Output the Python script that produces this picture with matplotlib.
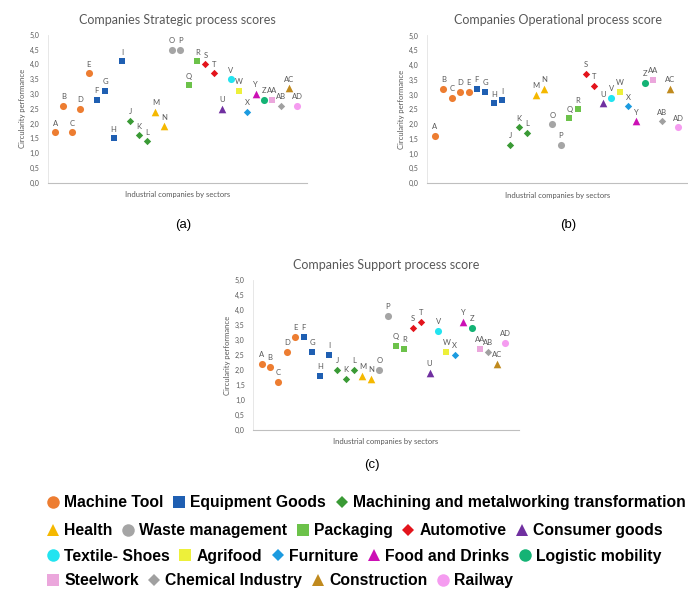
import matplotlib
matplotlib.use('Agg')
import matplotlib.pyplot as plt
from matplotlib.lines import Line2D

companies = ['A', 'B', 'C', 'D', 'E', 'F', 'G', 'H', 'I', 'J', 'K', 'L', 'M', 'N', 'O',
             'P', 'Q', 'R', 'S', 'T', 'U', 'V', 'W', 'X', 'Y', 'Z', 'AA', 'AB', 'AC', 'AD']

company_sectors = (['Machine Tool'] * 5 + ['Equipment Goods'] * 4
                   + ['Machining and metalworking transformation'] * 3
                   + ['Health'] * 2 + ['Waste management'] * 2 + ['Packaging'] * 2
                   + ['Automotive'] * 2 + ['Consumer goods', 'Textile- Shoes', 'Agrifood',
                                           'Furniture', 'Food and Drinks', 'Logistic mobility',
                                           'Steelwork', 'Chemical Industry', 'Construction',
                                           'Railway'])

strategic = [1.7, 2.6, 1.7, 2.5, 3.7, 2.8, 3.1, 1.5, 4.1, 2.1, 1.6, 1.4, 2.4, 1.9, 4.5,
             4.5, 3.3, 4.1, 4.0, 3.7, 2.5, 3.5, 3.1, 2.4, 3.0, 2.8, 2.8, 2.6, 3.2, 2.6]
operational = [1.6, 3.2, 2.9, 3.1, 3.1, 3.2, 3.1, 2.7, 2.8, 1.3, 1.9, 1.7, 3.0, 3.2, 2.0,
               1.3, 2.2, 2.5, 3.7, 3.3, 2.7, 2.9, 3.1, 2.6, 2.1, 3.4, 3.5, 2.1, 3.2, 1.9]
support = [2.2, 2.1, 1.6, 2.6, 3.1, 3.1, 2.6, 1.8, 2.5, 2.0, 1.7, 2.0, 1.8, 1.7, 2.0,
           3.8, 2.8, 2.7, 3.4, 3.6, 1.9, 3.3, 2.6, 2.5, 3.6, 3.4, 2.7, 2.6, 2.2, 2.9]

y_ticks = [0, 0.5, 1, 1.5, 2, 2.5, 3, 3.5, 4, 4.5, 5]
y_tick_labels = ['0,0', '0,5', '1,0', '1,5', '2,0', '2,5', '3,0', '3,5', '4,0', '4,5', '5,0']

legend_rows = [
    ['Machine Tool', 'Equipment Goods', 'Machining and metalworking transformation'],
    ['Health', 'Waste management', 'Packaging', 'Automotive', 'Consumer goods'],
    ['Textile- Shoes', 'Agrifood', 'Furniture', 'Food and Drinks', 'Logistic mobility'],
    ['Steelwork', 'Chemical Industry', 'Construction', 'Railway'],
]

# colour, marker for each sector
sector_style = {
    'Machine Tool': ('#ED7D31', 'o'),
    'Equipment Goods': ('#1F5FB2', 's'),
    'Machining and metalworking transformation': ('#3A9A35', 'D'),
    'Health': ('#F5B800', '^'),
    'Waste management': ('#A5A5A5', 'o'),
    'Packaging': ('#6CC24A', 's'),
    'Automotive': ('#E3141C', 'D'),
    'Consumer goods': ('#7030A0', '^'),
    'Textile- Shoes': ('#22E4F0', 'o'),
    'Agrifood': ('#EDF03A', 's'),
    'Furniture': ('#1C9BE0', 'D'),
    'Food and Drinks': ('#CC10B5', '^'),
    'Logistic mobility': ('#14B375', 'o'),
    'Steelwork': ('#EBA7DC', 's'),
    'Chemical Industry': ('#A0A0A0', 'D'),
    'Construction': ('#C08A1E', '^'),
    'Railway': ('#F59CF0', 'o'),
}
marker_area = {'o': 26, 's': 24, 'D': 14, '^': 30}

TEXT_GREY = '#595959'
CHART_FONT = 'Lato'


def draw_panel(fig, rect, scores, title, xlim):
    ax = fig.add_axes(rect)
    x = range(1, len(scores) + 1)
    for xi, yi, name, sector in zip(x, scores, companies, company_sectors):
        color, marker = sector_style[sector]
        ax.scatter(xi, yi, s=marker_area[marker], marker=marker, color=color,
                   linewidths=0, zorder=3)
        ax.annotate(name, (xi, yi), xytext=(0, 4), textcoords='offset points',
                    ha='center', va='bottom', fontsize=5.5, color=TEXT_GREY,
                    family=CHART_FONT)
    ax.set_xlim(*xlim)
    ax.set_ylim(0, 5)
    ax.set_xticks([])
    ax.set_yticks(y_ticks)
    ax.set_yticklabels(y_tick_labels, fontsize=5, color=TEXT_GREY, family=CHART_FONT)
    ax.tick_params(axis='y', length=0, pad=6)
    for side in ['top', 'right']:
        ax.spines[side].set_visible(False)
    ax.spines['left'].set_color('#E3E3E3')
    ax.spines['bottom'].set_color('#BFBFBF')
    ax.spines['left'].set_linewidth(0.6)
    ax.spines['bottom'].set_linewidth(0.8)
    ax.set_ylabel('Circularity performance', fontsize=5.5, color=TEXT_GREY,
                  family=CHART_FONT, labelpad=3)
    ax.set_xlabel('Industrial companies by sectors', fontsize=5.5, color=TEXT_GREY,
                  family=CHART_FONT, labelpad=6)
    ax.set_title(title, fontsize=9, color=TEXT_GREY, family=CHART_FONT, pad=8)
    return ax


fig = plt.figure(figsize=(6.88, 5.91), dpi=100)

draw_panel(fig, [0.0698, 0.691, 0.377, 0.250], strategic,
           'Companies Strategic process scores', (0.15, 31.2))
draw_panel(fig, [0.6206, 0.690, 0.380, 0.250], operational,
           'Companies Operational process score', (0.05, 31.2))
draw_panel(fig, [0.368, 0.2724, 0.386, 0.254], support,
           'Companies Support process score', (0.0, 31.6))

for label, (px, py) in zip(['(a)', '(b)', '(c)'],
                           [(0.266, 0.619), (0.826, 0.619), (0.541, 0.213)]):
    fig.text(px, py, label, fontsize=9.5, ha='center', va='center', family='Liberation Sans')

row_y = [0.149, 0.102, 0.059, 0.017]
for row, ry in zip(legend_rows, row_y):
    handles = []
    for sector in row:
        color, marker = sector_style[sector]
        size = 9 if marker != 'D' else 6.5
        handles.append(Line2D([], [], linestyle='none', marker=marker, markersize=size,
                              color=color, markeredgewidth=0, label=sector))
    fig.legend(handles=handles, loc='center left', bbox_to_anchor=(0.068, ry),
               ncol=len(handles), frameon=False, handlelength=0.8, handletextpad=0.3,
               columnspacing=0.6, borderpad=0, borderaxespad=0,
               prop={'family': 'Liberation Sans', 'weight': 'bold', 'size': 11.3})

plt.savefig('out.png', dpi=100)
plt.close()
